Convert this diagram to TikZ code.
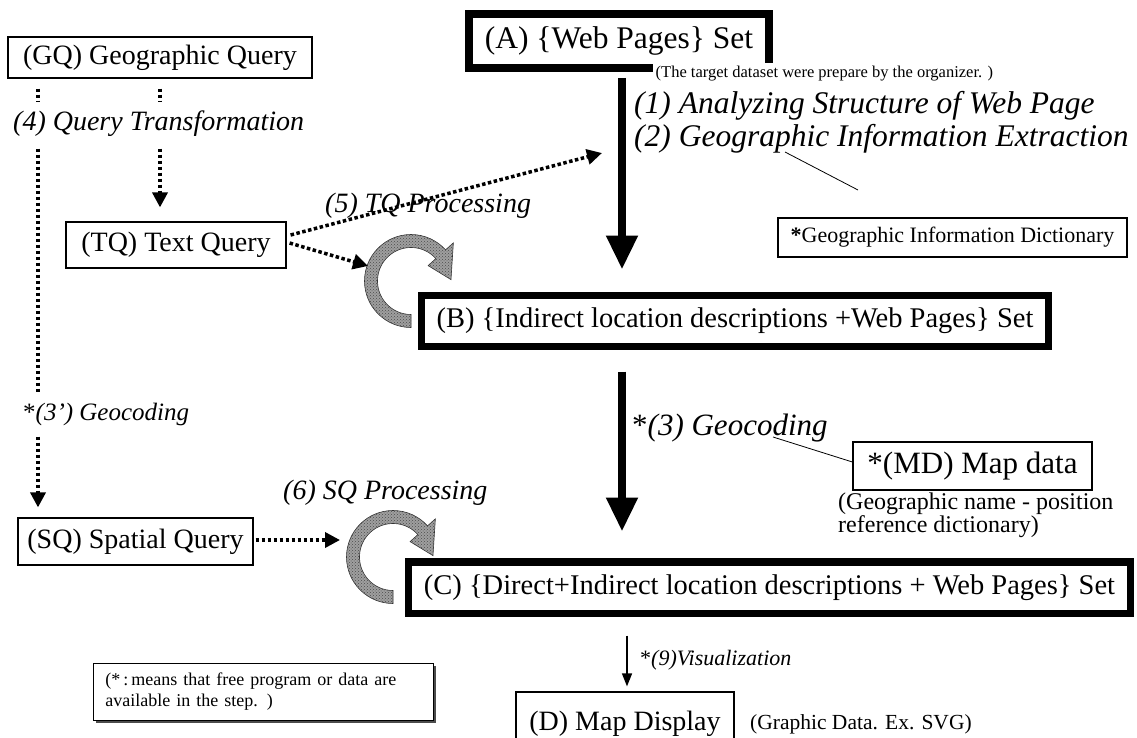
\documentclass[tikz,border=0pt]{standalone}
\usepackage{fontspec}
\setmainfont{Liberation Serif}
\usetikzlibrary{arrows.meta,calc,patterns,shadows}
\newcommand\fsz[2]{\fontsize{#1}{#2}\selectfont}
\newcommand\ringat[1]{%
  \path[ringarrow] ($(#1)+(90:46.5)$) arc[start angle=90,end angle=318,radius=46.5]
    -- ($(#1)+(318:57)$) -- ($(#1)+(358:40)$) -- ($(#1)+(318:23)$)
    -- ($(#1)+(318:33.5)$) arc[start angle=318,end angle=90,radius=33.5] -- cycle;}
\begin{document}
\begin{tikzpicture}[x=1pt,y=-1pt,
  thinbox/.style={draw, line width=1.2pt, inner sep=0pt, font=\fsz{28}{32}},
  thickbox/.style={draw, line width=7pt, inner sep=0pt, font=\fsz{28.5}{32}},
  lbl/.style={font=\fsz{28}{32}\itshape, inner sep=0pt, anchor=west},
  dotline/.style={line width=3.5pt, dash pattern=on 3.5pt off 2.5pt},
  dotarrow/.style={dotline, -{Triangle[width=15pt,length=15pt]}},
  bigarrow/.style={line width=8pt, -{Triangle[width=30pt,length=34pt]}},
  ringarrow/.style={fill=gray!75, draw=black!80, line width=0.6pt, postaction={pattern=crosshatch dots, pattern color=black!70}},
  ptr/.style={line width=0.8pt},
  captxt/.style={inner sep=0pt, anchor=west},
]
\useasboundingbox (0,0) rectangle (1137,738);
\clip (0,0) rectangle (1137,738);

% boxes
\node[thinbox, minimum width=304pt, minimum height=41pt] (gq) at (160,57.5) {(GQ) Geographic Query};
\node[thickbox, line width=8pt, minimum width=300pt, minimum height=54pt, font=\fsz{31.5}{35}] (a) at (619,41) {(A) \{Web Pages\} Set};
\node[font=\fsz{16.5}{19}, fill=white, inner sep=2.5pt, anchor=north west] (capa) at (653,63) {(The target dataset were prepare by the organizer. )};
\node[thickbox, minimum width=627pt, minimum height=51pt] (b) at (735,321) {(B) \{Indirect location descriptions +Web Pages\} Set};
\node[thickbox, line width=7.5pt, minimum width=722pt, minimum height=51.5pt] (c) at (769.5,587.5) {(C) \{Direct+Indirect location descriptions + Web Pages\} Set};
\node[thinbox, minimum width=220pt, minimum height=46pt] (tq) at (176,245) {(TQ) Text Query};
\node[thinbox, minimum width=235pt, minimum height=47pt] (sq) at (135.5,541.5) {(SQ) Spatial Query};
\node[thinbox, minimum width=349pt, minimum height=39pt, font=\fsz{22}{25}] (dict) at (952.5,237.5) {\textbf{*}Geographic Information Dictionary};
\node[thinbox, minimum width=239pt, minimum height=48pt, font=\fsz{31}{35}] (md) at (972.5,466) {*(MD) Map data};
\node[thinbox, minimum width=218pt, minimum height=64pt] (d) at (625,724) {(D) Map Display};

% ring arrows
\coordinate (c5) at (411,281);
\coordinate (c6) at (393,557);
\ringat{c5}
\ringat{c6}

% connectors
\coordinate (sh) at (622,0);
\coordinate (th) at (627,0);
\coordinate (xl) at (38,0);
\coordinate (xr) at (160,0);
\draw[dotarrow, shorten <=10pt, shorten >=10pt] (gq.south -| xl) -- (sq.north -| xl);
\draw[dotarrow, shorten <=10pt, shorten >=14pt] (gq.south -| xr) -- (tq.north -| xr);
\draw[bigarrow, shorten <=6pt, shorten >=22.5pt] (a.south -| sh) -- (b.north -| sh);
\draw[bigarrow, shorten <=21.5pt, shorten >=26.5pt] (b.south -| sh) -- (c.north -| sh);
\draw[line width=1.3pt, -{Triangle[width=10pt,length=13pt]}, shorten <=18.5pt, shorten >=5pt] (c.south -| th) -- (d.north -| th);
\coordinate (t5) at (368,266);
\coordinate (t12) at (602,153);
\coordinate (t6) at (340,540);
\draw[dotarrow] ($(tq.east)+(3,-2)$) -- (t5);
\draw[dotarrow] ($(tq.east)+(4,-10)$) -- (t12);
\draw[dotarrow, shorten <=2pt] (sq.east |- t6) -- (t6);
\coordinate (p2) at (785,152);
\coordinate (p2e) at (858,190);
\draw[ptr] (p2) -- (p2e);
\coordinate (p3) at (773,437);
\draw[ptr] (p3) -- ($(md.west)+(0,-4)$);

% labels
\node[lbl, fill=white, inner xsep=1pt, inner ysep=9pt] (l4) at (12,124) {(4) Query Transformation};
\node[lbl, fill=white, font=\fsz{25}{28}\itshape, inner ysep=10pt, inner xsep=1pt] (l3p) at (22,414) {{\upshape *}(3’) Geocoding};
\node[lbl] (l5) at (325,206) {(5) TQ Processing};
\node[lbl] (l6) at (283,493) {(6) SQ Processing};
\node[lbl, font=\fsz{31.5}{35}\itshape] (l1) at (634,106) {(1) Analyzing Structure of Web Page};
\node[lbl, font=\fsz{31.5}{35}\itshape] (l2) at (634,139) {(2) Geographic Information Extraction};
\node[lbl, font=\fsz{31}{35}\itshape] (l3) at (632,428) {{\upshape *}(3) Geocoding};
\node[anchor=north west, inner sep=0pt, align=left, font=\fsz{24}{23}] (capmd) at (838,493) {(Geographic name - position\\reference dictionary)};
\node[lbl, font=\fsz{22}{25}\itshape] (l9) at (640,660) {{\upshape *}(9)Visualization};
\node[captxt, font=\fsz{21.5}{24}] (capd) at (750,724) {(Graphic Data. Ex. SVG)};
\node[draw, line width=0.8pt, fill=white, anchor=north west, inner xsep=12pt, text width=316pt, minimum height=57pt, align=left, font=\fsz{18}{21}, drop shadow={shadow xshift=3pt, shadow yshift=-3pt, opacity=1, fill=gray!60!black}] (note) at (93,663) {(*\,:\,means that free program or data are\\available in the step. )};
\end{tikzpicture}
\end{document}
